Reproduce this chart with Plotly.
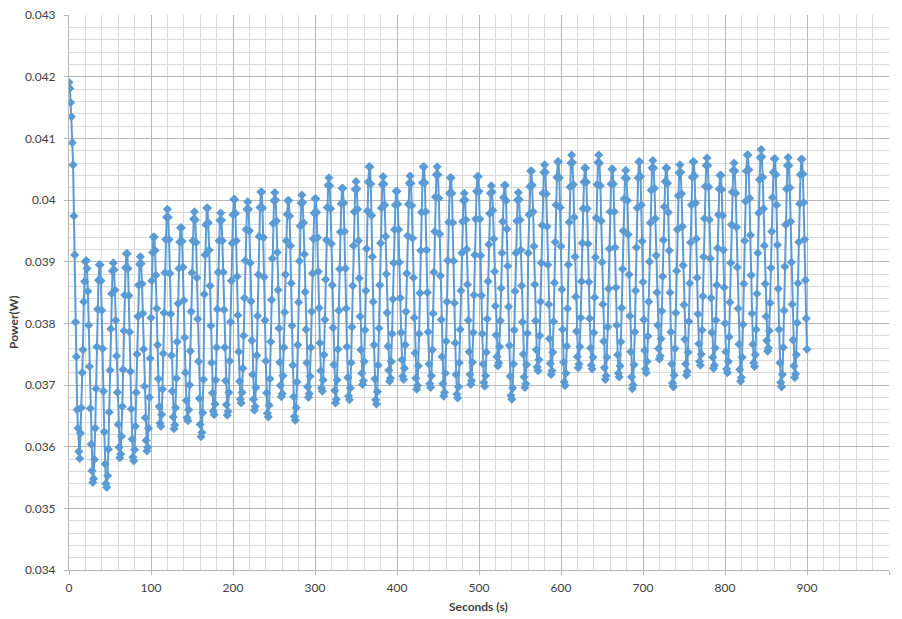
import plotly.graph_objects as go

# Power readings in mW, sampled once per second (t = 0 ... 900 s)
power_mw_000_119 = [
    41.91, 41.81, 41.58, 41.35, 40.93, 40.57, 39.74, 39.11, 38.02, 37.46, 36.60, 36.30, 35.92, 35.81, 36.22, 36.63, 37.20, 37.57, 38.35, 38.68, 39.00,
    39.02, 38.89, 38.52, 37.97, 37.30, 36.62, 36.04, 35.61, 35.42, 35.48, 35.79, 36.30, 36.94, 37.62, 38.23, 38.70, 38.95, 38.95, 38.69, 38.21, 37.59, 36.90, 36.24, 35.72, 35.40, 35.34, 35.53, 35.96, 36.56, 37.24, 37.91, 38.48, 38.85,
    38.98, 38.87, 38.54, 38.05, 37.47, 36.88, 36.36, 35.99, 35.82, 35.88, 36.17, 36.65, 37.25, 37.88, 38.46, 38.90, 39.13, 39.13, 38.89, 38.45, 37.86, 37.22, 36.61, 36.12, 35.83, 35.77, 35.95, 36.33, 36.88, 37.50, 38.11, 38.62, 38.96,
    39.08, 38.97, 38.64, 38.16, 37.58, 36.98, 36.47, 36.10, 35.93, 35.99, 36.30, 36.80, 37.43, 38.09, 38.69, 39.15, 39.40, 39.40, 39.18, 38.78, 38.24, 37.65, 37.10, 36.65, 36.38, 36.33, 36.52, 36.93, 37.51, 38.17, 38.82, 39.36, 39.72,
]
power_mw_120_250 = [
    39.85, 39.72, 39.36, 38.81, 38.15, 37.48, 36.90, 36.48, 36.29, 36.35, 36.63, 37.11, 37.70, 38.32, 38.89, 39.32, 39.55, 39.55, 39.33, 38.91, 38.37, 37.77, 37.20, 36.75, 36.47, 36.42, 36.60, 37.00, 37.55, 38.19, 38.82, 39.34, 39.69,
    39.81, 39.68, 39.31, 38.74, 38.07, 37.38, 36.78, 36.36, 36.16, 36.23, 36.55, 37.09, 38.47, 39.11, 39.60, 39.87, 39.87, 39.63, 39.19, 38.61, 37.96, 37.36, 36.87, 36.58, 36.52, 36.69, 37.08, 37.61, 38.23, 38.83, 39.34, 39.67,
    39.79, 39.67, 39.34, 38.83, 38.22, 37.61, 37.07, 36.68, 36.51, 36.57, 36.88, 37.39, 38.02, 38.69, 39.30, 39.76, 40.01, 40.01, 39.78, 39.34, 38.76, 38.13, 37.54, 37.06, 36.77, 36.71, 36.88, 37.27, 37.80, 38.41, 39.02, 39.52, 39.85,
    39.97, 39.85, 39.50, 38.98, 38.36, 37.72, 37.17, 36.77, 36.59, 36.65, 36.96, 37.48, 38.12, 38.79, 39.41, 39.88, 40.13, 40.13, 39.87, 39.39, 38.75, 38.05, 37.39, 36.87, 36.54, 36.48, 36.67, 37.10, 37.70, 38.38, 39.05, 39.62, 39.99,
]
power_mw_251_382 = [
    40.12, 40.00, 39.66, 39.15, 38.54, 37.92, 37.37, 36.99, 36.81, 36.86, 37.15, 37.61, 38.18, 38.79, 39.34, 39.77, 39.99, 39.99, 39.74, 39.26, 38.65, 37.96, 37.32, 36.81, 36.49, 36.43, 36.63, 37.05, 37.65, 38.34, 39.01, 39.58, 39.95,
    40.08, 39.96, 39.63, 39.12, 38.51, 37.90, 37.36, 36.97, 36.80, 36.86, 37.14, 37.61, 38.19, 38.81, 39.37, 39.79, 40.02, 40.02, 39.80, 39.39, 38.84, 38.25, 37.68, 37.23, 36.95, 36.90, 37.08, 37.49, 38.06, 38.71, 39.35, 39.88, 40.24,
    40.36, 40.23, 39.86, 39.29, 38.62, 37.93, 37.33, 36.91, 36.71, 36.77, 37.08, 37.58, 38.21, 38.88, 39.48, 39.94, 40.19, 40.19, 39.95, 39.49, 38.89, 38.24, 37.62, 37.12, 36.82, 36.76, 36.95, 37.36, 37.94, 38.61, 39.26, 39.81, 40.17,
    40.30, 40.18, 39.85, 39.34, 38.73, 38.11, 37.57, 37.19, 37.01, 37.07, 37.38, 37.89, 38.53, 39.21, 39.82, 40.29, 40.54, 40.54, 40.26, 39.75, 39.08, 38.35, 37.65, 37.10, 36.76, 36.69, 36.89, 37.32, 37.92, 38.62, 39.30, 39.87, 40.25,
]
power_mw_383_514 = [
    40.38, 40.26, 39.92, 39.41, 38.80, 38.17, 37.63, 37.24, 37.06, 37.11, 37.38, 37.83, 38.39, 38.98, 39.52, 39.92, 40.14, 40.14, 39.93, 39.52, 38.99, 38.41, 37.85, 37.41, 37.14, 37.09, 37.27, 37.65, 38.19, 38.81, 39.42, 39.93, 40.27,
    40.39, 40.27, 39.91, 39.38, 38.74, 38.09, 37.52, 37.11, 36.93, 36.99, 37.31, 37.83, 38.49, 39.18, 39.80, 40.28, 40.54, 40.54, 40.28, 39.81, 39.19, 38.50, 37.86, 37.34, 37.02, 36.96, 37.15, 37.57, 38.16, 38.83, 39.49, 40.05, 40.41,
    40.54, 40.41, 40.03, 39.45, 38.77, 38.06, 37.46, 37.02, 36.82, 36.88, 37.19, 37.71, 38.35, 39.02, 39.64, 40.11, 40.36, 40.36, 40.11, 39.63, 39.01, 38.33, 37.68, 37.17, 36.85, 36.79, 36.97, 37.36, 37.90, 38.53, 39.14, 39.65, 39.99,
    40.11, 40.00, 39.68, 39.20, 38.63, 38.05, 37.54, 37.17, 37.01, 37.07, 37.37, 37.85, 38.46, 39.11, 39.69, 40.14, 40.38, 40.38, 40.14, 39.69, 39.10, 38.45, 37.83, 37.34, 37.04, 36.98, 37.15, 37.53, 38.07, 38.68, 39.28, 39.78, 40.11,
]
power_mw_515_645 = [
    40.23, 40.13, 39.83, 39.37, 38.84, 38.28, 37.81, 37.46, 37.31, 37.36, 37.62, 38.04, 38.57, 39.14, 39.65, 40.04, 40.24, 40.24, 39.99, 39.53, 38.93, 38.27, 37.64, 37.14, 36.83, 36.77, 36.95, 37.34, 37.89, 38.52, 39.14, 39.66, 40.00,
    40.12, 40.01, 39.68, 39.19, 38.61, 38.02, 37.50, 37.13, 36.96, 37.02, 37.33, 37.84, 39.14, 39.76, 40.22, 40.47, 40.47, 40.24, 39.81, 39.25, 38.63, 38.04, 37.57, 37.29, 37.23, 37.41, 37.80, 38.35, 38.98, 39.59, 40.11, 40.45,
    40.57, 40.45, 40.10, 39.57, 38.95, 38.31, 37.75, 37.35, 37.17, 37.23, 37.53, 38.03, 38.66, 39.32, 39.92, 40.37, 40.62, 40.62, 40.36, 39.88, 39.25, 38.55, 37.90, 37.37, 37.05, 36.99, 37.19, 37.63, 38.24, 38.95, 39.64, 40.21, 40.60,
    40.73, 40.61, 40.25, 39.72, 39.08, 38.43, 37.87, 37.46, 37.28, 37.34, 37.62, 38.09, 38.68, 39.30, 39.86, 40.29, 40.52, 40.52, 40.29, 39.86, 39.29, 38.67, 38.08, 37.60, 37.32, 37.26, 37.45, 37.85, 38.42, 39.07, 39.71, 40.25, 40.61,
]
power_mw_646_777 = [
    40.73, 40.60, 40.23, 39.66, 38.99, 38.31, 37.71, 37.28, 37.09, 37.15, 37.45, 37.94, 38.56, 39.21, 39.81, 40.26, 40.50, 40.50, 40.26, 39.81, 39.23, 38.58, 37.97, 37.49, 37.19, 37.13, 37.31, 37.70, 38.25, 38.88, 39.50, 40.02, 40.36,
    40.48, 40.35, 39.99, 39.44, 38.79, 38.12, 37.54, 37.13, 36.94, 37.00, 37.33, 37.86, 38.53, 39.23, 39.87, 40.36, 40.62, 40.62, 40.38, 39.92, 39.33, 38.67, 38.06, 37.56, 37.26, 37.20, 37.38, 37.79, 38.35, 39.00, 39.63, 40.16, 40.52,
    40.64, 40.52, 40.19, 39.70, 39.10, 38.50, 37.97, 37.59, 37.42, 37.47, 37.75, 38.20, 38.76, 39.35, 39.89, 40.30, 40.52, 40.52, 40.27, 39.80, 39.18, 38.50, 37.86, 37.34, 37.03, 36.97, 37.16, 37.59, 38.17, 38.85, 39.52, 40.07, 40.44,
    40.57, 40.45, 40.10, 39.57, 38.94, 38.30, 37.74, 37.34, 37.16, 37.22, 37.53, 38.03, 38.65, 39.31, 39.92, 40.37, 40.62, 40.62, 40.39, 39.95, 39.37, 38.74, 38.15, 37.67, 37.38, 37.32, 37.50, 37.89, 38.44, 39.08, 39.70, 40.22, 40.56,
]
power_mw_778_900 = [
    40.68, 40.56, 40.21, 39.68, 39.05, 38.41, 37.85, 37.45, 37.27, 37.32, 37.60, 38.05, 38.62, 39.22, 39.76, 40.18, 40.40, 40.40, 40.17, 39.75, 39.19, 38.58, 38.00, 37.54, 37.26, 37.20, 37.38, 37.78, 38.34, 38.98, 39.60, 40.13, 40.48,
    40.60, 40.47, 40.11, 39.56, 38.91, 38.24, 37.66, 37.25, 37.06, 37.12, 37.45, 37.98, 38.64, 39.34, 39.98, 40.47, 40.73, 40.73, 40.49, 40.03, 39.43, 38.78, 38.16, 37.66, 37.36, 37.30, 37.49, 37.90, 38.48, 39.14, 39.79, 40.33, 40.69,
    40.82, 40.70, 40.37, 39.86, 39.26, 38.64, 38.11, 37.72, 37.55, 37.60, 37.88, 38.33, 38.90, 39.49, 40.04, 40.45, 40.67, 40.67, 40.41, 39.92, 39.27, 38.56, 37.90, 37.36, 37.04, 36.97, 37.17, 37.61, 38.21, 38.92, 39.60, 40.18, 40.56,
    40.69, 40.56, 40.20, 39.65, 38.99, 38.31, 37.73, 37.31, 37.12, 37.18, 37.49, 38.01, 38.65, 39.32, 39.94, 40.41, 40.66, 40.66, 40.42, 39.96, 39.36, 38.70, 38.08, 37.58,
]

power_mw = (power_mw_000_119 + power_mw_120_250 + power_mw_251_382 + power_mw_383_514
            + power_mw_515_645 + power_mw_646_777 + power_mw_778_900)
power_w = [v / 1000.0 for v in power_mw]
sample_interval_s = 1
seconds = [i * sample_interval_s for i in range(len(power_w))]

x_tick_values = [0, 100, 200, 300, 400, 500, 600, 700, 800, 900, 1000]
x_tick_labels = ["0", "100", "200", "300", "400", "500", "600", "700", "800", "900", "1000"]
y_tick_values = [0.034, 0.035, 0.036, 0.037, 0.038, 0.039, 0.040, 0.041, 0.042, 0.043]
y_tick_labels = ["0.034", "0.035", "0.036", "0.037", "0.038", "0.039", "0.04", "0.041", "0.042", "0.043"]

blue = "#5B9BD5"
major_grid = "#B7B7B7"
minor_grid = "#DADADA"
font_family = "Lato, 'Open Sans', 'DejaVu Sans', sans-serif"
text_color = "#404040"

fig = go.Figure()
fig.add_trace(go.Scatter(
    x=seconds, y=power_w, mode="lines+markers",
    line=dict(color=blue, width=2),
    marker=dict(symbol="diamond", size=7, color=blue),
    showlegend=False, hoverinfo="x+y",
))

axis_common = dict(
    showgrid=True, gridcolor=major_grid, gridwidth=1,
    showline=True, linecolor=major_grid, linewidth=1,
    ticks="outside", ticklen=4, tickcolor=major_grid,
    tickfont=dict(family=font_family, size=12, color=text_color),
    zeroline=False, mirror=False, automargin=False,
)

fig.update_layout(
    width=902, height=619,
    margin=dict(l=69, r=13, t=15, b=49, autoexpand=False),
    paper_bgcolor="white", plot_bgcolor="white",
    font=dict(family=font_family, size=12, color=text_color),
    xaxis=dict(
        range=[0, 1000], tickvals=x_tick_values, ticktext=x_tick_labels,
        minor=dict(dtick=20, tick0=0, showgrid=True, gridcolor=minor_grid, gridwidth=1, ticks=""),
        ticklabelstandoff=3,
        **axis_common,
    ),
    yaxis=dict(
        range=[0.034, 0.043], tickvals=y_tick_values, ticktext=y_tick_labels,
        minor=dict(dtick=0.0002, tick0=0.034, showgrid=True, gridcolor=minor_grid, gridwidth=1, ticks=""),
        ticklabelstandoff=6,
        **axis_common,
    ),
    annotations=[
        dict(text="<b>Seconds (s)</b>", xref="paper", yref="paper", x=0.499, y=-0.065,
             xanchor="center", yanchor="middle", showarrow=False,
             font=dict(family=font_family, size=12, color=text_color)),
        dict(text="<b>Power(W)</b>", xref="paper", yref="paper", x=-0.067, y=0.447,
             xanchor="center", yanchor="middle", showarrow=False, textangle=-90,
             font=dict(family=font_family, size=12, color=text_color)),
    ],
)

fig.write_html(
    "out.html",
    config=dict(displayModeBar=False),
    post_script="document.body.style.margin='0px';document.body.style.padding='0px';",
)
